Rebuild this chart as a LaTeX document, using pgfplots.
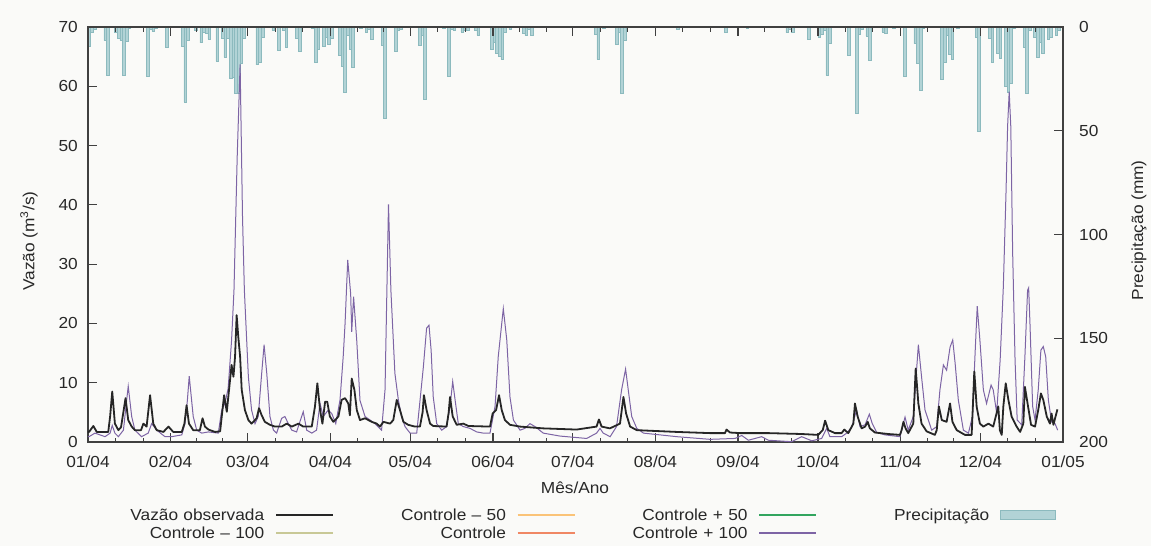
\documentclass[border=0pt]{standalone}
\usepackage{fontspec}
\setmainfont{Liberation Sans}[FakeStretch=1.08]
\usepackage{pgfplots}
\pgfplotsset{compat=1.18}
\definecolor{bgcol}{RGB}{250,250,248}
\definecolor{axcol}{RGB}{64,64,64}
\definecolor{txtcol}{RGB}{40,40,40}
\definecolor{obscol}{RGB}{38,38,38}
\definecolor{plusHundred}{RGB}{125,100,165}
\definecolor{minusHundred}{RGB}{200,200,150}
\definecolor{minusFifty}{RGB}{250,195,120}
\definecolor{controlCol}{RGB}{240,135,100}
\definecolor{plusFifty}{RGB}{50,165,95}
\definecolor{pfillcol}{RGB}{178,211,214}
\definecolor{pdrawcol}{RGB}{140,186,190}
\newcommand\fs{\fontsize{16}{19}\selectfont}
\begin{document}
\begin{tikzpicture}
\fill[bgcol] (0pt,0pt) rectangle (1151pt,-546pt);
\useasboundingbox (0pt,0pt) rectangle (1151pt,-546pt);
% ---------------- precipitation (right axis, reversed)
\begin{axis}[at={(88pt,-442pt)}, anchor=south west, scale only axis,
  width=975pt, height=415pt,
  xmin=0, xmax=366, ymin=0, ymax=200, y dir=reverse,
  hide x axis, axis y line*=right,
  ytick={0,50,100,150,200},
  tick align=inside, major tick length=9pt,
  axis line style={axcol, line width=1.2pt},
  major tick style={axcol, line width=1.2pt},
  /pgf/number format/assume math mode=true,
  yticklabel style={anchor=west, inner sep=0pt, xshift=16pt, font=\fs, text=txtcol},
  ylabel={Precipitação (mm)},
  ylabel style={at={(axis description cs:1.078,0.51)}, anchor=center, font=\fs, text=txtcol},
]
\addplot[ybar, bar width=1, bar shift=0pt, fill=pfillcol, draw=pdrawcol, line width=0.6pt] coordinates {
(0.5,9.2) (1.5,2.4) (2.5,1.1) (6.5,6.4) (7.5,23.5) (10.5,2.4) (11.5,5.3) (12.5,6.4) (13.5,23.3) (14.5,6.9) (15.5,0.8)
(22.5,23.8) (23.5,1.1) (24.5,2.1) (25.5,0.8) (29.5,9.6) (35.5,9.2) (36.5,36.1) (37.5,6.4) (40.5,1.6)
(42.5,7.6) (43.5,2.4) (44.5,3.2) (45.5,5.9) (48.5,16.5) (50.5,5.6) (51.5,14.5) (52.5,5.3) (53.5,24.9)
(54.5,24.1) (55.5,32.1) (56.5,32.1) (57.5,17.7) (58.5,5.3) (63.5,18.2) (64.5,16.9) (65.5,4.8) (69.5,1.6)
(71.5,11.2) (73.5,1.6) (74.5,9.6) (78.5,5.3) (79.5,11.7) (84.5,0.8) (85.5,17.2) (86.5,10.8) (88.5,9.2)
(89.5,4.8) (90.5,8.5) (91.5,5.3) (94.5,13.7) (95.5,18.8) (96.5,31.3) (97.5,4.0) (98.5,10.8) (99.5,19.6)
(102.5,0.8) (104.5,2.4) (105.5,1.1) (106.5,5.9) (110.5,8.8) (111.5,44) (115.5,11.7) (116.5,1.6) (117.5,1.1)
(124.5,8.8) (125.5,4.0) (126.5,35) (133.5,0.8) (135.5,23.8) (136.5,1.1) (137.5,1.6) (140.5,2.4) (141.5,1.6)
(142.5,1.6) (145.5,1.6) (146.5,4.0) (151.5,10.8) (152.5,7.2) (153.5,12.9) (154.5,14.1) (155.5,15.6)
(156.5,2.4) (158.5,1.1) (163.5,3.2) (164.5,4.0) (165.5,1.1) (166.5,4.0) (190.5,3.7) (191.5,15.6)
(193.5,0.8) (198.5,8.5) (199.5,2.4) (200.5,31.8) (201.5,6.4) (221.5,1.1) (239.5,2.4) (247.5,0.8)
(262.5,2.7) (263.5,1.1) (264.5,2.4) (270.5,5.9) (274.5,4.8) (275.5,3.7) (276.5,1.6) (277.5,23.3)
(278.5,8.0) (285.5,13.7) (288.5,41.8) (289.5,3.7) (290.5,1.1) (292.5,4.3) (293.5,16.1) (298.5,2.4)
(299.5,3.2) (302.5,0.8) (306.5,23.6) (310.5,8.0) (311.5,17.7) (312.5,30.5) (313.5,0.8) (320.5,25.2)
(321.5,16.9) (322.5,4.0) (323.5,13.3) (324.5,15.6) (326.5,0.8) (333.5,4.8) (334.5,50.1) (338.5,5.6)
(339.5,16.9) (341.5,12.9) (342.5,14.9) (344.5,28.4) (345.5,31.6) (346.5,27.0) (347.5,0.8) (351.5,9.6)
(352.5,32.1) (353.5,1.6) (355.5,4.8) (356.5,14.5) (357.5,7.2) (358.5,12.9) (360.5,5.9) (361.5,4.8)
(363.5,4.0) (364.5,1.6)
};
\end{axis}
% ---------------- discharge (left axis)
\begin{axis}[at={(88pt,-442pt)}, anchor=south west, scale only axis,
  width=975pt, height=415pt,
  xmin=0, xmax=366, ymin=0, ymax=70,
  xtick={0,31,60,91,121,152,182,213,244,274,305,335,366},
  xticklabels={01/04,02/04,03/04,04/04,05/04,06/04,07/04,08/04,09/04,10/04,11/04,12/04,01/05},
  minor xtick={10.33,20.67,40.67,50.33,70.33,80.67,101,111,131.33,141.67,162,172,192.33,202.67,223.33,233.67,254,264,284.33,294.67,315,325,345.33,355.67},
  ytick={0,10,...,70}, ytick pos=left,
  tick align=inside, major tick length=9pt, minor tick length=4.5pt,
  axis line style={axcol, line width=1.2pt},
  major tick style={axcol, line width=1.2pt},
  minor tick style={axcol, line width=1pt},
  /pgf/number format/assume math mode=true,
  xticklabel style={anchor=base, inner sep=0pt, yshift=-25pt, font=\fs, text=txtcol},
  yticklabel style={anchor=east, inner sep=0pt, xshift=-10pt, font=\fs, text=txtcol},
  xlabel={Mês/Ano},
  xlabel style={at={(axis description cs:0.4995,-0.111)}, anchor=center, font=\fs, text=txtcol},
  ylabel={Vazão (m\textsuperscript{3}/s)},
  ylabel style={at={(axis description cs:-0.0605,0.484)}, anchor=center, font=\fs, text=txtcol},
  legend columns=4, legend plot pos=right,
  legend style={draw=none, fill=none, at={(0.0123,-0.156)}, anchor=north west,
    font=\fs, text=txtcol, column sep=11pt, row sep=5pt,
    nodes={inner sep=0pt, text width=161pt, align=right}},
]
\addlegendimage{legend image code/.code={\draw[draw=obscol, line width=1.7pt] (0pt,0.5pt) -- (57pt,0.5pt);}}
\addlegendentry{Vazão observada}
\addlegendimage{legend image code/.code={\draw[draw=minusFifty, line width=1.7pt] (0pt,0.5pt) -- (57pt,0.5pt);}}
\addlegendentry{Controle -- 50}
\addlegendimage{legend image code/.code={\draw[draw=plusFifty, line width=1.7pt] (0pt,0.5pt) -- (57pt,0.5pt);}}
\addlegendentry{Controle + 50}
\addlegendimage{legend image code/.code={\draw[fill=pfillcol, draw=pdrawcol, line width=1pt] (0pt,-4pt) rectangle (55pt,5pt);}}
\addlegendentry{Precipitação}
\addlegendimage{legend image code/.code={\draw[draw=minusHundred, line width=1.7pt] (0pt,0.5pt) -- (57pt,0.5pt);}}
\addlegendentry{Controle -- 100}
\addlegendimage{legend image code/.code={\draw[draw=controlCol, line width=1.7pt] (0pt,0.5pt) -- (57pt,0.5pt);}}
\addlegendentry{Controle}
\addlegendimage{legend image code/.code={\draw[draw=plusHundred, line width=1.7pt] (0pt,0.5pt) -- (57pt,0.5pt);}}
\addlegendentry{Controle + 100}

\addplot[plusHundred, line width=1pt, forget plot] coordinates {
(0,0.9) (0.4,0.9) (2.6,1.5) (6.4,0.9) (8.3,1.5) (9.1,2.8) (10.1,1.5) (11.4,0.9) (13.3,2.0) (14.5,7.0)
(15.1,9.4) (16.4,4.3) (17.6,2.0) (20.1,0.9) (22.6,1.5) (23.9,3.1) (25.8,2.0) (28.9,0.9) (31.4,0.9)
(35.2,1.2) (36.4,3.1) (37.3,7.0) (38,11.1) (38.9,7.0) (39.5,4.3) (40.8,2.0) (42.7,1.5) (45.2,1.7)
(48.9,1.5) (50.2,5.4) (51.4,6.5) (52.6,9.0) (53.9,17.2) (54.8,25.6) (56,48) (57.1,63.7) (58,38)
(58.7,25.6) (60.2,11) (61.4,5.4) (62.7,3.1) (63.9,4.3) (65.2,11.6) (66.1,16.4) (67.1,11.6) (68.3,4.3)
(69.6,2.0) (70.8,1.5) (72.7,4.0) (73.9,4.3) (75.2,3.1) (76.5,2.0) (78.3,1.7) (79.6,3.5) (80.8,5.1)
(82.1,2.0) (84,1.5) (85.8,2.0) (87.1,6.5) (88.3,4.3) (90.2,5.4) (91.5,4.8) (93,3.1) (94.6,7.1)
(95.8,14.4) (96.5,20) (97.5,30.7) (98.6,25) (99,18.6) (99.7,24.5) (100.9,17) (102.1,7) (104,4.3)
(105.9,3.7) (107.7,3.1) (110.2,2.0) (111.5,8.8) (112.8,40.1) (113.7,25.6) (115.2,11.6) (116.5,7.1)
(117.7,4.3) (119,2.6) (120.9,1.5) (123.4,1.5) (125.9,12.7) (127.1,19.2) (128,19.7) (128.8,15.5)
(129.6,7.6) (130.9,3.1) (132.8,2.0) (134.6,2.6) (135.9,6.0) (136.9,10.2) (137.8,7.1) (139,3.1)
(140.9,2.6) (143.4,2.3) (145.9,1.7) (148.4,1.5) (150.9,1.5) (152.8,6.0) (154,14.4) (155.9,22.5)
(157.2,17.2) (158.4,7.6) (159.7,3.7) (162.2,2.0) (164,2.3) (165.9,3.1) (167.8,2.6) (170.9,1.5)
(177.2,1.0) (187.2,0.6) (190.9,1.5) (192.2,2.3) (193.4,1.5) (196,0.9) (198.4,2.6) (200.3,8.8)
(201.8,12.3) (202.8,8.8) (204.1,4.3) (206,2.3) (208.5,1.5) (221,0.9) (233.5,0.45) (242.9,0.6)
(245.4,1.1) (247.9,0.3) (252.9,0.9) (255.4,0.3) (264.1,0.05) (267.9,0.9) (271.7,0.2) (275.4,0.6)
(277.3,2.3) (278.5,0.9) (282.9,0.9) (284.8,1.5) (286.7,2.5) (288.5,5.4) (289.8,2.6) (291.7,2.9)
(293.3,4.7) (294.4,3.1) (296.1,1.6) (299.2,1.2) (304.8,0.9) (306.7,4.2) (307.9,2.0) (309.8,4.3)
(311.7,16.4) (312.9,11) (314.2,5.4) (316.7,2.0) (318.6,2.6) (319.8,8.8) (321.1,13.0) (322.3,12.1)
(323.6,16.0) (324.6,17.2) (325.5,13.3) (326.7,7.1) (328.6,2.0) (330.5,1.5) (332,4.3) (333,15)
(333.8,22.9) (334.8,17.2) (336.1,8.8) (337.3,6.5) (339,9.6) (339.8,8.8) (341.1,4.9) (342.4,13.8)
(343.6,26.2) (344.6,42) (345.2,53.2) (345.8,59.1) (346.4,53.2) (347.1,31.9) (348,13.8) (348.8,3.7)
(350.5,2.9) (351.7,14.4) (352.7,25.6) (353.1,26) (353.6,20) (354.6,6.0) (355.5,3.7) (356.7,8.8) (357.7,15.5)
(358.6,16.1) (359.5,14.4) (360.5,7.1) (361.7,3.4) (363,3.1) (364,2.0)
};
\addplot[obscol, line width=1.8pt, line join=round, forget plot] coordinates {
(0,1.7) (0.4,1.7) (2,2.7) (3.3,1.7) (7.6,1.7) (8.3,4.3) (9.1,8.5) (10.1,3.1) (11.4,2.0) (12.4,2.5)
(13.3,5.1) (14.1,7.4) (15.1,3.7) (16.4,2.6) (17.6,2.0) (19.9,2.0) (20.8,3.1) (22,2.6) (23.3,7.9)
(24.5,3.1) (25.8,2.0) (28.3,1.7) (30.2,2.6) (32,1.7) (35.2,1.7) (36.2,3.1) (37,6.2) (37.9,3.1)
(39.5,2.0) (42,2.0) (43,4.0) (43.9,2.6) (45.2,2.1) (47.7,1.7) (49.6,1.8) (50.2,4.3) (51.1,7.9)
(52.1,5.1) (53.9,13.0) (54.6,11.0) (55.2,14.4) (55.8,21.4) (56.4,17.8) (57.1,14.4) (57.7,8.8)
(58.9,5.4) (60.2,3.7) (61.4,3.1) (63.3,4.0) (64.2,5.7) (65.2,4.5) (66.4,3.4) (68.3,2.9) (70.2,2.6)
(72.7,2.6) (74.6,3.1) (76.5,2.6) (79,3.1) (80.8,2.6) (84,2.6) (85.2,6.0) (86.1,9.9) (87.1,5.4)
(88,3.1) (89,6.8) (89.8,6.8) (90.8,4.3) (92.1,3.4) (94,4.3) (95.2,7.1) (96.5,7.4) (97.7,6.5)
(98.3,4.5) (99,10.7) (100,8.8) (100.9,5.4) (102.1,3.7) (104,4.0) (106.5,3.4) (108.4,3.1) (109.6,2.6)
(110.9,3.4) (113.4,3.1) (114.6,3.7) (115.9,7.1) (117.1,5.4) (118.4,3.4) (120.2,2.9) (122.7,2.6)
(124.6,2.6) (125.6,5.0) (126.1,7.9) (127.1,5.4) (128.4,3.1) (129.6,2.7) (134.6,2.6) (135.4,5.0)
(135.9,7.6) (136.9,4.3) (138.4,2.9) (140.9,3.1) (142.8,2.7) (150.9,2.6) (151.9,4.8) (153.2,5.4)
(154.3,7.9) (155.3,5.4) (156.5,3.7) (158.4,2.9) (162.2,2.6) (170.9,2.3) (183.4,2.1) (190.9,2.6)
(191.8,3.8) (192.8,2.6) (195.9,2.3) (199.7,3.1) (201,7.6) (202,4.8) (203.5,2.6) (206,2.0) (221,1.7)
(233.5,1.5) (239.1,1.5) (239.7,2.1) (241,1.6) (244.8,1.5) (255.4,1.5) (267.9,1.35) (274.1,1.2)
(275.8,2.0) (276.7,3.6) (277.9,2.0) (280.4,1.5) (282.9,1.5) (283.9,2.1) (285.4,1.5) (287.3,3.1)
(287.9,6.5) (288.9,4.3) (290.4,2.3) (291.7,2.6) (292.7,3.4) (293.5,2.3) (295.4,1.6) (300.4,1.35)
(304.8,1.2) (305.4,2.0) (306.1,3.4) (306.9,2.3) (307.9,1.5) (309.8,3.1) (310.7,12.4) (311.7,6.5)
(312.9,3.1) (314.8,1.8) (317.9,1.2) (318.6,2.0) (319.4,6.0) (320.5,3.7) (322.3,3.4) (323.6,6.5)
(324.5,3.4) (326.1,2.0) (329.2,1.2) (331.7,1.2) (332.1,5.4) (332.7,11.9) (333.6,5.9) (334.8,3.1)
(336.1,2.6) (338,3.1) (339.8,2.6) (341.7,6.0) (342.3,2.0) (343,1.2) (343.6,6.0) (344.5,9.9)
(345.5,7.1) (346.7,4.3) (348.6,2.6) (349.9,1.7) (351.1,3.1) (351.7,9.3) (352.7,6.5) (354,2.9)
(355.5,2.6) (356.7,5.4) (357.7,8.2) (358.6,7.1) (359.9,4.3) (361.1,3.1) (361.7,4.8) (362.4,2.9)
(363.2,4.3) (363.9,5.5)
};
\end{axis}
\end{tikzpicture}
\end{document}
